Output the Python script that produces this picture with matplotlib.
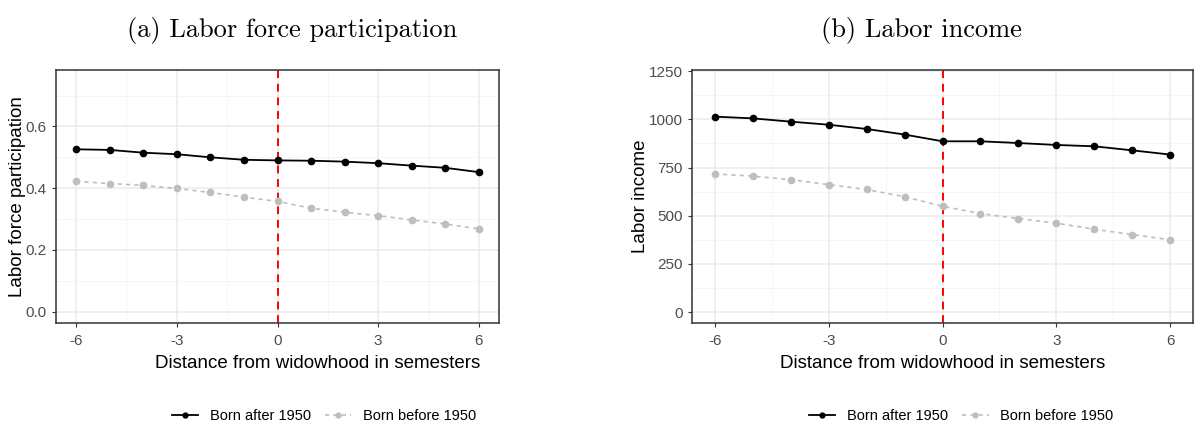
import numpy as np
import matplotlib
matplotlib.use("Agg")
import matplotlib.pyplot as plt
from matplotlib.lines import Line2D

plt.rcParams["font.family"] = ["Liberation Sans", "DejaVu Sans"]
plt.rcParams["axes.unicode_minus"] = False

semesters = [-6, -5, -4, -3, -2, -1, 0, 1, 2, 3, 4, 5, 6]

lfp_after = [0.526, 0.524, 0.515, 0.510, 0.500, 0.492, 0.490,
             0.489, 0.486, 0.481, 0.473, 0.466, 0.452]
lfp_before = [0.422, 0.415, 0.409, 0.399, 0.386, 0.371, 0.357,
              0.335, 0.322, 0.311, 0.297, 0.284, 0.268]

inc_after = [1014, 1005, 988, 972, 950, 921, 886,
             886, 877, 867, 860, 839, 817]
inc_before = [717, 705, 687, 661, 636, 598, 549,
              511, 485, 461, 430, 402, 375]

series_labels = ["Born after 1950", "Born before 1950"]
titles = ["(a) Labor force participation", "(b) Labor income"]
ylabels = ["Labor force participation", "Labor income"]
xlabel = "Distance from widowhood in semesters"

fig = plt.figure(figsize=(11.95, 4.23), dpi=100)
W, H = 1195, 423


def add_axes(x0, x1, y0, y1):
    return fig.add_axes([x0 / W, 1 - y1 / H, (x1 - x0) / W, (y1 - y0) / H])


ax1 = add_axes(56, 499, 70, 323)
ax2 = add_axes(692, 1193, 70, 323)

panels = [
    (ax1, lfp_after, lfp_before, (-0.037, 0.783), [0.0, 0.2, 0.4, 0.6],
     [0.1, 0.3, 0.5, 0.7], ["0.0", "0.2", "0.4", "0.6"]),
    (ax2, inc_after, inc_before, (-57, 1256), [0, 250, 500, 750, 1000, 1250],
     [125, 375, 625, 875, 1125], ["0", "250", "500", "750", "1000", "1250"]),
]
# horizontal centres (axes fraction) of title, x label and legend
title_x = [0.533, 0.457]
xlabel_x = [0.59, 0.5]
legend_x = [0.605, 0.537]

for i, (ax, after, before, ylim, yt, ymin, ytl) in enumerate(panels):
    ax.set_xlim(-6.6, 6.6)
    ax.set_ylim(*ylim)
    ax.set_xticks([-6, -3, 0, 3, 6])
    ax.set_xticks([-4.5, -1.5, 1.5, 4.5], minor=True)
    ax.set_yticks(yt)
    ax.set_yticklabels(ytl)
    ax.set_yticks(ymin, minor=True)
    ax.grid(True, which="major", color="#ebebeb", linewidth=1.1, zorder=0)
    ax.grid(True, which="minor", color="#f4f4f4", linewidth=0.6, zorder=0)
    ax.set_axisbelow(True)
    for s in ax.spines.values():
        s.set_color("#333333")
        s.set_linewidth(1.1)
    ax.tick_params(which="major", length=3, color="#333333", labelsize=11,
                   labelcolor="#4d4d4d")
    ax.tick_params(axis="x", which="major", pad=5)
    ax.tick_params(which="minor", length=0)

    ax.axvline(0, color="red", linestyle=(0, (4, 3)), linewidth=1.4, zorder=2)
    ax.plot(semesters, before, color="#bebebe", linestyle=(0, (2.5, 2.5)),
            linewidth=1.2, marker="o", markersize=4.5, zorder=3)
    ax.plot(semesters, after, color="black", linewidth=1.3, marker="o",
            markersize=4.5, zorder=4)

    ax.set_xlabel(xlabel, fontsize=13.5, labelpad=4)
    ax.xaxis.set_label_coords(xlabel_x[i], -0.125)
    ax.set_ylabel(ylabels[i], fontsize=13.5, labelpad=0)
    ax.set_title(titles[i], family="cmr10", fontsize=19, pad=24,
                 x=title_x[i])

    handles = [
        Line2D([], [], color="black", linewidth=1.3, marker="o", markersize=3.5),
        Line2D([], [], color="#bebebe", linewidth=1.2, linestyle=(0, (2.5, 2.5)),
               marker="o", markersize=3.5),
    ]
    ax.legend(handles, series_labels, loc="center",
              bbox_to_anchor=(legend_x[i], -0.367), ncol=2, frameon=False,
              fontsize=10.5, handlelength=1.8, columnspacing=1.0,
              handletextpad=0.8, borderpad=0.2)

fig.savefig("out.png", dpi=100)
